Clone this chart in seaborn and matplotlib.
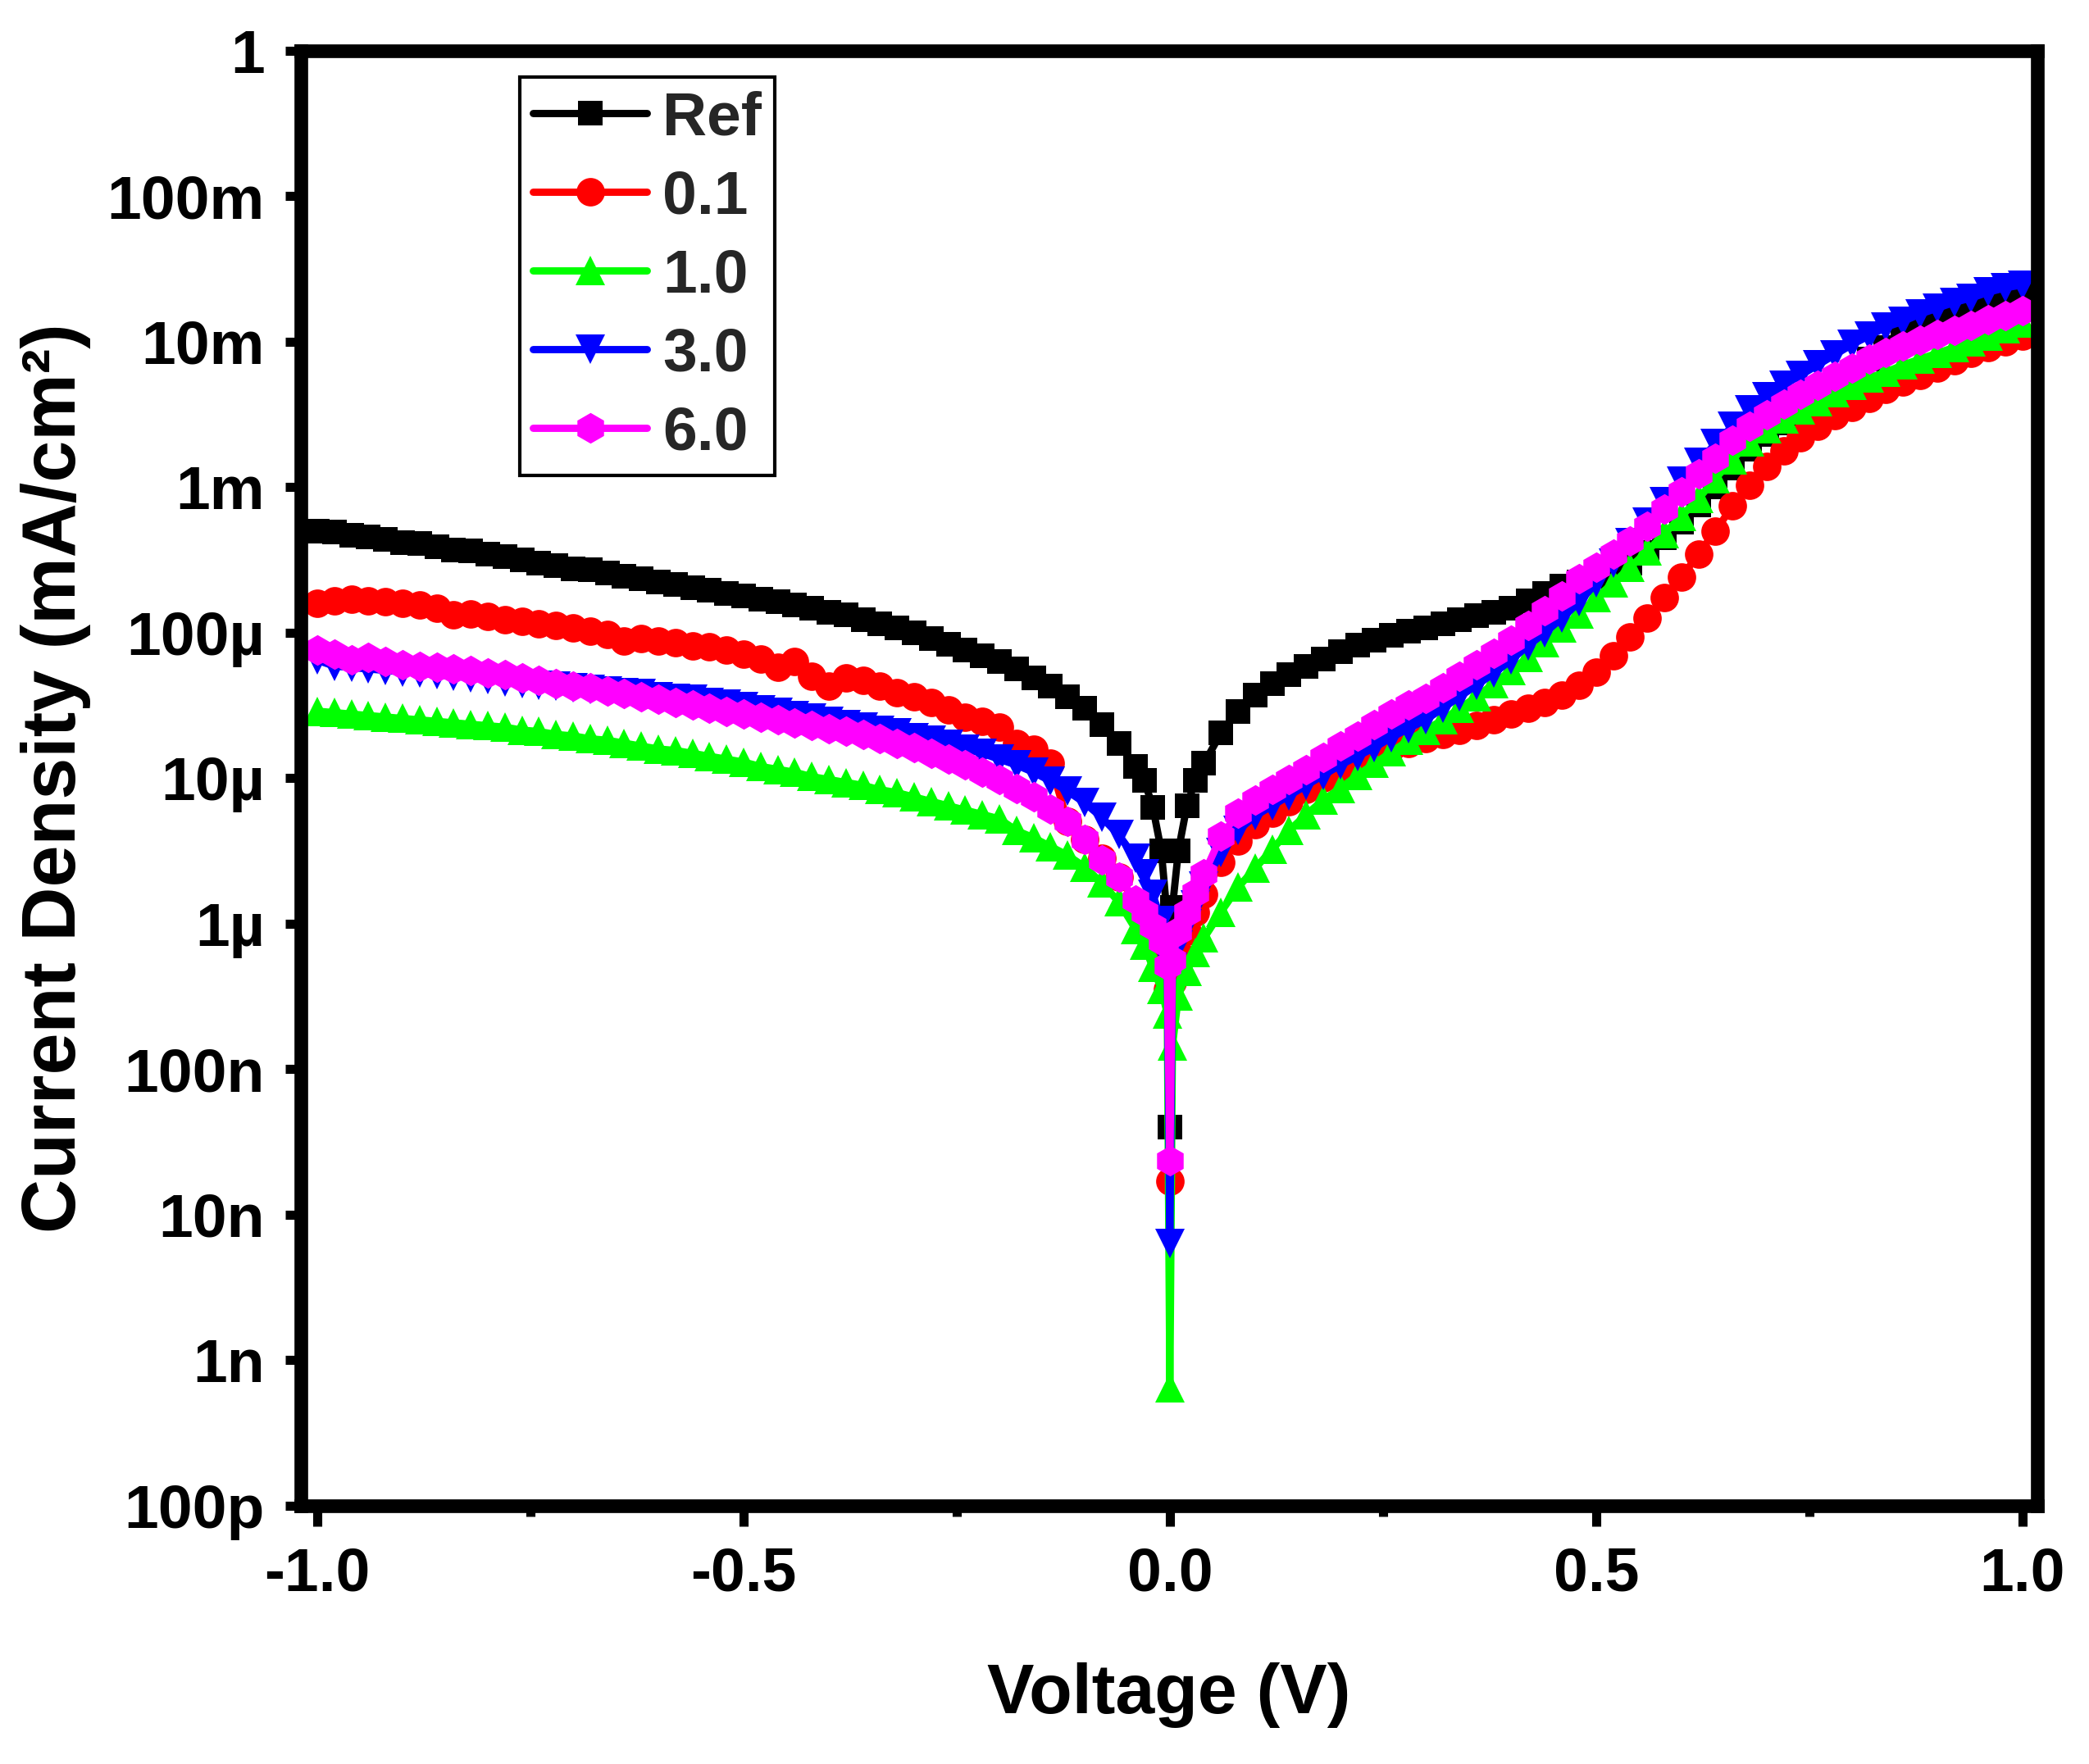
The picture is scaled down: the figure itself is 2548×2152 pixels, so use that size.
import numpy as np
import pandas as pd
import matplotlib
matplotlib.use("Agg")
import matplotlib.pyplot as plt
from matplotlib.ticker import FixedLocator, FixedFormatter, NullLocator
import seaborn as sns

# ---------------- data ----------------
voltage = [
    -1.00, -0.98, -0.96, -0.94, -0.92, -0.90, -0.88, -0.86, -0.84, -0.82,
    -0.80, -0.78, -0.76, -0.74, -0.72, -0.70, -0.68, -0.66, -0.64, -0.62,
    -0.60, -0.58, -0.56, -0.54, -0.52, -0.50, -0.48, -0.46, -0.44, -0.42,
    -0.40, -0.38, -0.36, -0.34, -0.32, -0.30, -0.28, -0.26, -0.24, -0.22,
    -0.20, -0.18, -0.16, -0.14, -0.12, -0.10, -0.08, -0.06, -0.04,
    -0.03, -0.02, -0.01, -0.003, 0.0, 0.003, 0.01, 0.02, 0.03,
    0.04, 0.06, 0.08, 0.10, 0.12, 0.14, 0.16, 0.18, 0.20, 0.22,
    0.24, 0.26, 0.28, 0.30, 0.32, 0.34, 0.36, 0.38, 0.40, 0.42,
    0.44, 0.46, 0.48, 0.50, 0.52, 0.54, 0.56, 0.58, 0.60, 0.62,
    0.64, 0.66, 0.68, 0.70, 0.72, 0.74, 0.76, 0.78, 0.80, 0.82,
    0.84, 0.86, 0.88, 0.90, 0.92, 0.94, 0.96, 0.98, 1.00,
]

samples = ["Ref", "0.1", "1.0", "3.0", "6.0"]

# log10 of current density (mA/cm^2), one value per voltage point
log10_j_ref = [
    -3.30, -3.31, -3.33, -3.34, -3.36, -3.38, -3.39, -3.41, -3.43, -3.44,
    -3.46, -3.48, -3.50, -3.52, -3.54, -3.56, -3.57, -3.59, -3.61, -3.63,
    -3.65, -3.67, -3.69, -3.71, -3.73, -3.75, -3.77, -3.79, -3.81, -3.83,
    -3.86, -3.88, -3.91, -3.94, -3.97, -4.00, -4.04, -4.08, -4.12, -4.16,
    -4.20, -4.25, -4.31, -4.37, -4.44, -4.52, -4.63, -4.76, -4.92,
    -5.015, -5.20, -5.50, -5.96, -7.40, -5.89, -5.50, -5.19, -5.015,
    -4.90, -4.69, -4.54, -4.43, -4.35, -4.29, -4.23, -4.18, -4.13, -4.085,
    -4.05, -4.02, -3.99, -3.965, -3.94, -3.91, -3.885, -3.86, -3.83, -3.78,
    -3.73, -3.68, -3.65, -3.61, -3.57, -3.52, -3.45, -3.35, -3.24, -3.12,
    -3.00, -2.87, -2.74, -2.64, -2.56, -2.49, -2.40, -2.31, -2.22, -2.12,
    -2.04, -1.98, -1.92, -1.87, -1.82, -1.78, -1.74, -1.70, -1.66,
]
log10_j_01 = [
    -3.80, -3.78, -3.77, -3.78, -3.79, -3.80, -3.81, -3.83, -3.88, -3.87,
    -3.89, -3.91, -3.92, -3.94, -3.95, -3.97, -3.99, -4.01, -4.06, -4.04,
    -4.06, -4.07, -4.09, -4.10, -4.12, -4.15, -4.18, -4.24, -4.20, -4.30,
    -4.37, -4.31, -4.33, -4.37, -4.41, -4.44, -4.48, -4.53, -4.58, -4.61,
    -4.65, -4.76, -4.80, -4.90, -5.30, -5.42, -5.55, -5.68, -5.85,
    -5.94, -6.05, -6.25, -6.45, -7.77, -6.40, -6.20, -6.05, -5.92,
    -5.80, -5.58, -5.43, -5.32, -5.24, -5.16, -5.08, -5.00, -4.93, -4.87,
    -4.82, -4.79, -4.76, -4.73, -4.70, -4.67, -4.64, -4.60, -4.56, -4.52,
    -4.48, -4.43, -4.36, -4.27, -4.16, -4.03, -3.90, -3.76, -3.62, -3.46,
    -3.30, -3.13, -2.99, -2.86, -2.75, -2.66, -2.58, -2.51, -2.45, -2.39,
    -2.33, -2.28, -2.23, -2.18, -2.13, -2.08, -2.04, -2.00, -1.96,
]
log10_j_10 = [
    -4.54, -4.55, -4.56, -4.57, -4.58, -4.59, -4.60, -4.61, -4.62, -4.63,
    -4.64, -4.65, -4.67, -4.68, -4.70, -4.71, -4.73, -4.74, -4.76, -4.78,
    -4.80, -4.81, -4.83, -4.85, -4.87, -4.89, -4.92, -4.94, -4.96, -4.99,
    -5.01, -5.03, -5.05, -5.08, -5.10, -5.13, -5.16, -5.19, -5.22, -5.25,
    -5.28, -5.36, -5.41, -5.47, -5.53, -5.61, -5.72, -5.85, -6.04,
    -6.15, -6.30, -6.45, -6.62, -9.19, -6.84, -6.50, -6.33, -6.20,
    -6.10, -5.92, -5.75, -5.62, -5.49, -5.36, -5.25, -5.15, -5.07, -4.98,
    -4.90, -4.82, -4.74, -4.67, -4.60, -4.52, -4.44, -4.35, -4.26, -4.17,
    -4.07, -3.97, -3.87, -3.76, -3.66, -3.55, -3.44, -3.32, -3.20, -3.08,
    -2.94, -2.81, -2.69, -2.60, -2.53, -2.47, -2.41, -2.35, -2.30, -2.25,
    -2.21, -2.16, -2.12, -2.08, -2.04, -2.00, -1.96, -1.91, -1.87,
]
log10_j_30 = [
    -4.19, -4.23, -4.24, -4.25, -4.26, -4.27, -4.28, -4.29, -4.30, -4.31,
    -4.32, -4.34, -4.35, -4.36, -4.37, -4.38, -4.39, -4.40, -4.41, -4.42,
    -4.44, -4.45, -4.46, -4.48, -4.49, -4.51, -4.53, -4.55, -4.57, -4.59,
    -4.61, -4.63, -4.65, -4.67, -4.69, -4.72, -4.74, -4.77, -4.80, -4.83,
    -4.87, -4.91, -4.96, -5.02, -5.09, -5.17, -5.27, -5.39, -5.55,
    -5.66, -5.80, -5.98, -6.25, -8.20, -6.30, -6.15, -6.00, -5.87,
    -5.74, -5.51, -5.36, -5.26, -5.19, -5.12, -5.05, -4.98, -4.91, -4.85,
    -4.79, -4.72, -4.66, -4.60, -4.52, -4.44, -4.36, -4.28, -4.19, -4.09,
    -4.00, -3.90, -3.79, -3.66, -3.52, -3.38, -3.24, -3.10, -2.96, -2.83,
    -2.70, -2.58, -2.47, -2.38, -2.30, -2.23, -2.16, -2.09, -2.02, -1.96,
    -1.90, -1.86, -1.81, -1.77, -1.73, -1.70, -1.66, -1.63, -1.61,
]
log10_j_60 = [
    -4.12, -4.15, -4.19, -4.17, -4.20, -4.22, -4.23, -4.24, -4.25, -4.26,
    -4.28, -4.29, -4.31, -4.33, -4.35, -4.37, -4.38, -4.40, -4.42, -4.44,
    -4.46, -4.48, -4.50, -4.52, -4.54, -4.56, -4.58, -4.60, -4.62, -4.64,
    -4.66, -4.68, -4.70, -4.73, -4.76, -4.79, -4.83, -4.87, -4.91, -4.96,
    -5.01, -5.07, -5.13, -5.21, -5.30, -5.42, -5.56, -5.68, -5.84,
    -5.92, -6.02, -6.12, -6.29, -7.63, -6.25, -6.05, -5.92, -5.79,
    -5.66, -5.40, -5.24, -5.15, -5.08, -5.01, -4.94, -4.86, -4.78, -4.71,
    -4.63, -4.56, -4.50, -4.45, -4.38, -4.30, -4.22, -4.14, -4.05, -3.95,
    -3.85, -3.75, -3.63, -3.55, -3.46, -3.37, -3.27, -3.15, -3.03, -2.91,
    -2.80, -2.68, -2.58, -2.50, -2.43, -2.36, -2.30, -2.24, -2.18, -2.12,
    -2.075, -2.03, -1.99, -1.95, -1.92, -1.89, -1.85, -1.82, -1.79,
]

series_colors = ["#000000", "#ff0000", "#00ff00", "#0000ff", "#ff00ff"]
series_markers = ["s", "o", "^", "v", "h"]
series_marker_sizes = [11.0, 12.5, 13.0, 13.0, 13.5]

y_tick_values = [1e-10, 1e-9, 1e-8, 1e-7, 1e-6, 1e-5, 1e-4, 1e-3, 1e-2, 1e-1, 1.0]
y_tick_labels = ["100p", "1n", "10n", "100n", "1\u00b5", "10\u00b5", "100\u00b5",
                 "1m", "10m", "100m", "1"]
x_tick_values = [-1.0, -0.5, 0.0, 0.5, 1.0]
x_tick_labels = ["-1.0", "-0.5", "0.0", "0.5", "1.0"]
x_minor_values = [-0.75, -0.25, 0.25, 0.75]

# ---------------- build long table ----------------
all_logs = [log10_j_ref, log10_j_01, log10_j_10, log10_j_30, log10_j_60]
frames = []
for name, logs in zip(samples, all_logs):
    frames.append(pd.DataFrame({"V": voltage,
                                "J": np.power(10.0, np.asarray(logs)),
                                "sample": name}))
df = pd.concat(frames, ignore_index=True)

# ---------------- style ----------------
sns.set_theme(style="white")
plt.rcParams["font.family"] = ["Liberation Sans", "DejaVu Sans"]
plt.rcParams["font.weight"] = "bold"
plt.rcParams["axes.labelweight"] = "bold"

fig = plt.figure(figsize=(12.74, 10.76), dpi=200)
left, right, bottom, top = 0.1441, 0.9751, 0.1465, 0.9713
ax = fig.add_axes([left, bottom, right - left, top - bottom])

for name, c, m, ms in zip(samples, series_colors, series_markers, series_marker_sizes):
    sub = df[df["sample"] == name]
    sns.lineplot(data=sub, x="V", y="J", ax=ax, color=c, marker=m,
                 markersize=ms, markeredgecolor=c, markeredgewidth=0,
                 linewidth=3.2, label=name, sort=False, estimator=None)

ax.set_yscale("log")
ax.set_ylim(1e-10, 1.0)
ax.set_xlim(-1.019, 1.017)

ax.yaxis.set_major_locator(FixedLocator(y_tick_values))
ax.yaxis.set_major_formatter(FixedFormatter(y_tick_labels))
ax.yaxis.set_minor_locator(NullLocator())
ax.xaxis.set_major_locator(FixedLocator(x_tick_values))
ax.xaxis.set_major_formatter(FixedFormatter(x_tick_labels))
ax.xaxis.set_minor_locator(FixedLocator(x_minor_values))

for sp in ax.spines.values():
    sp.set_linewidth(6)
    sp.set_color("black")
    sp.set_capstyle("projecting")

ax.tick_params(axis="y", which="major", direction="out", length=7, width=4,
               color="black", labelsize=27, pad=9, left=True, right=False)
ax.tick_params(axis="x", which="major", direction="out", length=9, width=4,
               color="black", labelsize=27, pad=9, bottom=True, top=False)
ax.tick_params(axis="x", which="minor", direction="out", length=4.5, width=4,
               color="black", bottom=True, top=False)
for lab in ax.get_xticklabels() + ax.get_yticklabels():
    lab.set_fontweight("bold")
    lab.set_color("black")

ax.set_xlabel("Voltage (V)", fontsize=31, fontweight="bold", color="black")
ax.set_ylabel("Current Density (mA/cm\u00b2)", fontsize=33, fontweight="bold",
              color="black")
ax.xaxis.set_label_coords(0.5, -0.108)
ax.yaxis.set_label_coords(-0.121, 0.5)

leg = ax.legend(loc="upper left", bbox_to_anchor=(0.126, 0.982),
                frameon=True, fancybox=False, edgecolor="black", framealpha=1,
                fontsize=27, handlelength=1.85, handletextpad=0.25,
                labelspacing=0.36, borderpad=0.22, borderaxespad=0)
leg.get_frame().set_linewidth(1.5)
for t in leg.get_texts():
    t.set_fontweight("bold")

ax.grid(False)
fig.savefig("out.png", dpi=200, facecolor="white")
